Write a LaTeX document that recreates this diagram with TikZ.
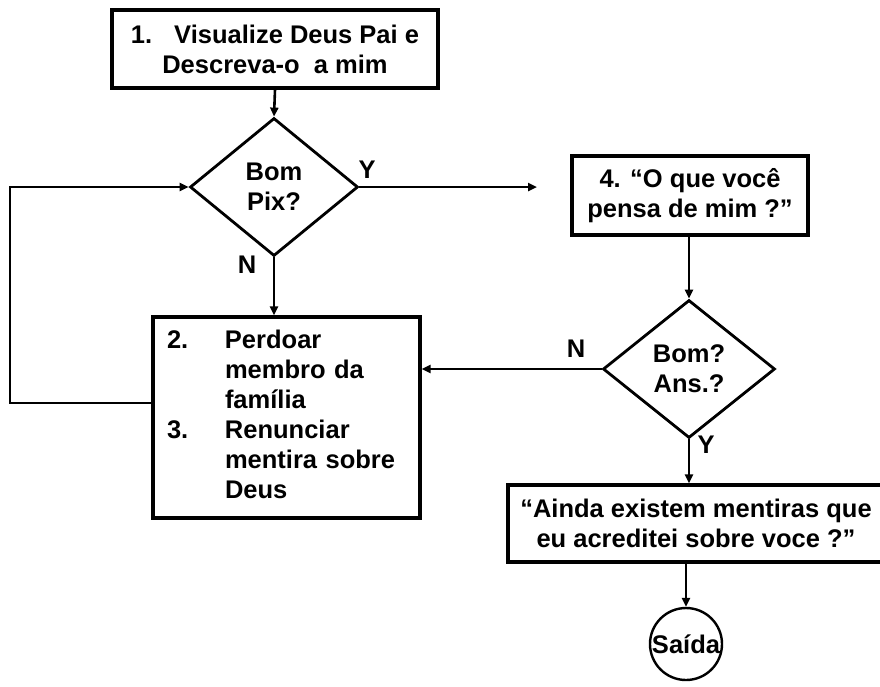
\documentclass[tikz,border=0pt]{standalone}
\usepackage{fontspec}
\setmainfont{Liberation Sans}
\usetikzlibrary{shapes.geometric,arrows.meta}
\begin{document}
\begin{tikzpicture}[x=1pt,y=-1pt,
  txt/.style={font=\fontsize{25.5}{30}\selectfont\bfseries},
  boxnode/.style={draw,line width=3.2pt,rectangle,inner sep=0pt,txt,align=center},
  decision/.style={draw,line width=2.8pt,diamond,inner sep=0pt,txt,align=center},
  endnode/.style={draw,line width=2.4pt,circle,inner sep=0pt,txt},
  conn/.style={line width=2.6pt},
  arr/.style={conn,-{Triangle[length=9pt,width=8pt]}},
  lbl/.style={txt}]
\useasboundingbox (0,0) rectangle (880,686);
\node[boxnode,minimum width=326pt,minimum height=78pt] (box1) at (275,49)
  {1.\hspace{22pt}Visualize Deus Pai e\\Descreva-o\ \ a mim};
\node[decision,minimum width=168pt,minimum height=138pt] (d1) at (274,187) {Bom\\Pix?};
\node[boxnode,minimum width=267pt,minimum height=201pt,text width=239pt,inner xsep=14pt,align=left] (box2) at (286.5,417.5)
  {\begin{tabular}{@{}p{58pt}@{}l@{}}2. & Perdoar\\ & membro da\\ & família\\3. & Renunciar\\ & mentira sobre\\ & Deus\end{tabular}};
\node[boxnode,minimum width=236pt,minimum height=79pt] (box4) at (690,195.5)
  {4. “O que você\\pensa de mim ?”};
\node[decision,minimum width=172pt,minimum height=138pt] (d2) at (689,369) {Bom?\\Ans.?};
\node[boxnode,minimum width=376pt,minimum height=77pt] (box5) at (696,523.5)
  {“Ainda existem mentiras que\\eu acreditei sobre voce ?”};
\node[endnode,minimum size=72pt] (exit) at (686,644) {\makebox[0pt]{Saída}};
\coordinate (yend) at (537,187);
\coordinate (lp) at (10,403);
\draw[arr] (box1.south) -- (d1.north);
\draw[arr] (d1.south) -- (d1.south |- box2.north);
\draw[arr] (d1.east) -- (yend);
\draw[arr] (box2.west |- lp) -- (lp) |- (d1.west);
\draw[arr] (box4.south -| d2.north) -- (d2.north);
\draw[arr] (d2.west) -- (d2.west -| box2.east);
\draw[arr] (d2.south) -- (d2.south |- box5.north);
\draw[arr] (exit.north |- box5.south) -- (exit.north);
\node[lbl] (ly1) at (367,170) {Y};
\node[lbl] (ln1) at (247,265) {N};
\node[lbl] (ln2) at (576,349) {N};
\node[lbl] (ly2) at (706,445) {Y};
\end{tikzpicture}
\end{document}
